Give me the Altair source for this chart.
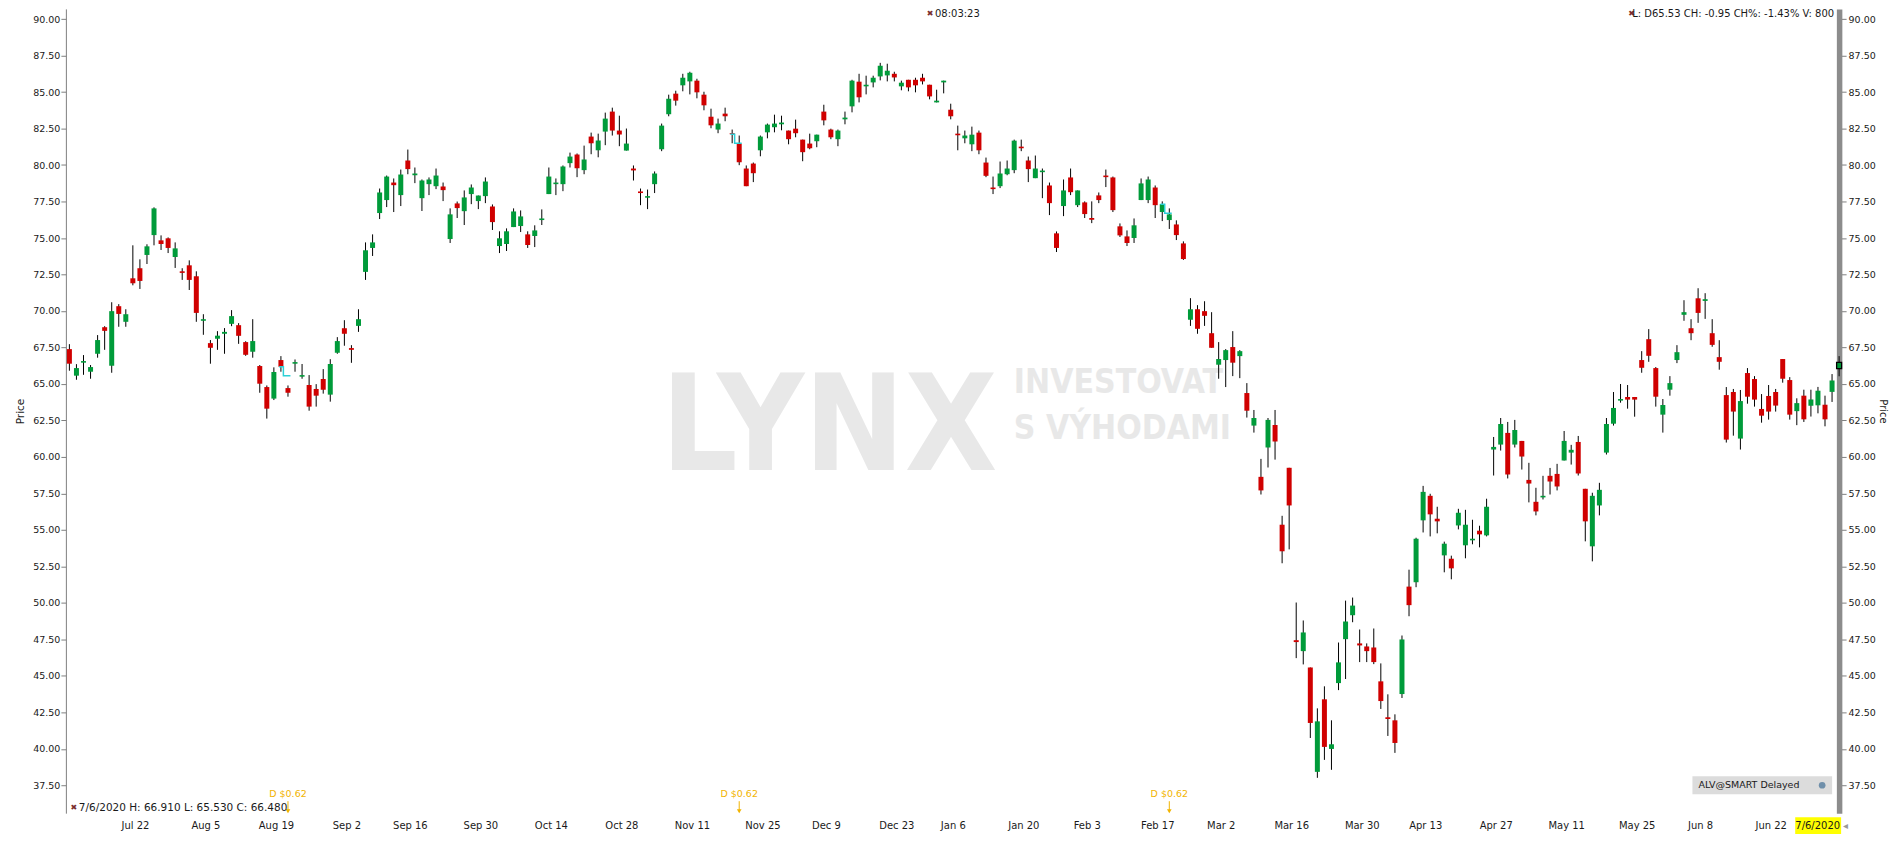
import json
import numpy as np
import pandas as pd
import altair as alt

# ---------------- data ----------------
holidays = ["2019-09-02", "2019-11-28", "2019-12-25", "2020-01-01", "2020-01-20",
            "2020-02-17", "2020-04-10", "2020-05-25", "2020-07-03"]

opens = [67.39, 65.57, 66.46, 65.84, 67.07, 68.89, 66.25, 70.33, 69.26, 72.24,
         72.93, 73.84, 75.20, 74.84, 74.98, 73.70, 72.72, 73.13, 72.38, 69.33,
         67.80, 68.10, 68.44, 69.12, 69.03, 67.87, 67.21, 66.23, 64.79, 64.00,
         66.64, 64.72, 66.39, 65.50, 64.93, 64.66, 65.34, 64.27, 67.14, 68.82,
         67.46, 68.98, 72.68, 74.32, 76.71, 77.60, 78.80, 77.94, 80.31, 79.30,
         77.73, 78.69, 78.55, 78.53, 74.93, 77.37, 76.84, 78.01, 77.53, 77.87,
         77.16, 74.45, 74.59, 75.75, 75.82, 75.25, 75.14, 76.23, 78.01, 78.69,
         78.69, 80.13, 80.72, 79.65, 81.95, 81.01, 82.29, 83.66, 82.36, 80.99,
         79.76, 78.19, 77.76, 78.69, 81.08, 83.48, 84.89, 85.46, 85.73, 85.78,
         84.82, 83.31, 82.43, 83.52, 82.18, 81.47, 79.76, 80.10, 81.01, 82.24,
         82.59, 82.79, 82.36, 82.49, 81.74, 81.47, 81.63, 83.66, 82.43, 81.77,
         83.13, 84.02, 85.71, 85.39, 85.66, 86.07, 86.14, 86.25, 85.39, 85.84,
         85.84, 85.98, 85.50, 84.29, 85.66, 83.79, 82.15, 81.83, 81.42, 82.22,
         80.17, 78.46, 78.55, 79.37, 79.65, 81.26, 80.31, 79.10, 79.51, 78.60,
         75.32, 77.19, 79.15, 77.25, 77.44, 76.37, 77.92, 79.28, 79.15, 75.80,
         75.11, 75.00, 77.60, 77.60, 78.46, 76.78, 76.23, 75.93, 74.63, 69.40,
         70.12, 69.99, 68.48, 66.32, 66.64, 67.53, 66.91, 64.38, 62.15, 58.64,
         60.65, 62.19, 55.36, 59.26, 47.45, 46.70, 45.58, 38.43, 43.40, 40.00,
         44.51, 47.52, 49.16, 47.23, 47.02, 46.95, 44.63, 42.17, 41.96, 43.76,
         51.12, 51.42, 55.66, 57.34, 55.77, 53.26, 53.03, 55.31, 53.95, 54.29,
         54.95, 54.63, 60.51, 60.85, 61.65, 60.85, 61.10, 58.43, 56.93, 57.23,
         58.71, 58.84, 59.76, 60.30, 61.03, 57.82, 53.88, 56.68, 60.30, 62.28,
         63.86, 64.11, 64.11, 66.64, 68.07, 66.09, 62.90, 64.61, 66.64, 69.74,
         68.82, 70.87, 70.69, 68.48, 66.84, 64.24, 64.45, 61.26, 65.75, 65.34,
         63.29, 64.18, 64.45, 66.71, 65.27, 63.14, 64.20, 63.51, 63.54, 63.58,
         64.46, 66.05]
highs = [67.73, 66.36, 66.98, 66.30, 68.35, 68.96, 70.60, 70.47, 70.12, 74.50,
         73.54, 74.57, 77.10, 75.18, 75.04, 74.70, 72.93, 73.47, 72.72, 69.78,
         68.01, 68.62, 68.83, 70.06, 69.17, 67.93, 69.44, 66.30, 64.90, 66.14,
         66.91, 64.90, 66.68, 66.37, 65.61, 64.99, 66.02, 66.70, 68.21, 69.37,
         67.66, 70.12, 74.70, 75.25, 78.39, 79.28, 79.08, 79.69, 81.06, 79.83,
         79.01, 79.15, 79.76, 78.80, 77.03, 77.50, 78.26, 78.67, 77.91, 79.15,
         77.30, 75.46, 75.66, 77.03, 76.89, 75.46, 75.87, 76.96, 79.83, 79.08,
         79.97, 80.85, 80.79, 81.33, 82.22, 82.15, 83.59, 83.93, 83.38, 82.50,
         79.97, 78.39, 78.32, 79.56, 82.84, 84.82, 85.09, 86.25, 86.39, 85.91,
         85.02, 83.86, 83.18, 83.93, 82.43, 82.02, 79.97, 80.17, 82.02, 82.84,
         83.45, 83.38, 82.36, 83.11, 81.74, 82.15, 82.08, 84.13, 82.49, 82.43,
         83.66, 85.84, 86.25, 86.12, 86.12, 87.00, 86.94, 86.39, 85.78, 85.84,
         85.98, 86.25, 85.50, 85.16, 85.78, 84.20, 82.70, 82.36, 82.63, 82.36,
         80.51, 79.21, 80.24, 80.31, 81.74, 81.74, 80.58, 80.65, 79.76, 78.80,
         75.45, 79.01, 79.76, 78.26, 77.51, 77.51, 78.12, 79.69, 79.21, 76.00,
         75.52, 76.34, 79.08, 79.21, 78.60, 77.51, 77.03, 76.21, 74.77, 70.88,
         70.40, 70.67, 69.92, 67.87, 67.39, 68.62, 67.32, 65.06, 63.22, 59.87,
         62.67, 63.22, 55.97, 59.26, 50.03, 48.80, 45.58, 42.78, 44.29, 41.96,
         47.29, 50.16, 50.37, 48.18, 47.23, 48.25, 45.86, 43.74, 42.37, 47.77,
         52.28, 54.47, 58.02, 57.48, 56.59, 54.20, 53.24, 56.45, 56.38, 55.70,
         55.29, 57.14, 61.37, 62.67, 62.40, 62.54, 61.10, 59.60, 57.89, 58.71,
         59.25, 59.53, 61.78, 60.83, 61.44, 57.82, 57.55, 58.23, 62.67, 64.45,
         65.00, 64.93, 64.11, 67.25, 68.76, 66.16, 63.97, 65.54, 67.66, 70.74,
         69.44, 71.56, 71.22, 69.44, 68.00, 64.79, 64.66, 64.59, 66.09, 65.54,
         64.31, 64.93, 64.66, 66.71, 65.47, 64.02, 64.61, 64.61, 64.80, 64.20,
         65.68, 66.91]
lows = [65.91, 65.29, 65.63, 65.36, 66.80, 67.34, 65.77, 68.92, 68.92, 71.76,
        71.51, 73.22, 74.50, 74.18, 73.97, 72.95, 72.13, 71.44, 69.26, 68.37,
        66.39, 67.34, 67.07, 68.96, 67.75, 66.93, 66.80, 64.40, 62.63, 63.90,
        65.84, 64.13, 65.84, 65.36, 63.17, 63.45, 64.34, 63.79, 67.07, 67.62,
        66.45, 68.57, 72.13, 73.77, 76.30, 77.12, 76.78, 77.19, 79.37, 78.76,
        76.85, 77.94, 78.35, 77.53, 74.66, 76.37, 75.89, 77.32, 76.98, 77.39,
        75.55, 73.97, 74.11, 75.75, 75.41, 74.32, 74.38, 75.89, 78.01, 77.94,
        78.21, 79.83, 79.17, 79.37, 80.74, 80.53, 81.36, 82.02, 81.29, 80.99,
        78.94, 77.25, 76.98, 78.08, 80.95, 83.34, 84.07, 85.05, 84.84, 84.57,
        83.75, 82.52, 82.18, 83.00, 81.49, 79.99, 78.55, 78.83, 80.60, 81.83,
        82.24, 82.38, 81.42, 81.90, 80.26, 81.08, 81.22, 82.72, 81.77, 81.29,
        82.79, 83.61, 84.29, 84.84, 85.32, 85.80, 85.73, 85.73, 85.12, 85.05,
        84.98, 85.52, 84.50, 84.29, 84.91, 83.13, 81.01, 81.49, 80.95, 80.74,
        79.17, 78.01, 78.42, 79.30, 79.44, 80.95, 78.83, 79.10, 77.73, 76.57,
        74.04, 76.50, 77.94, 77.12, 76.37, 76.02, 77.39, 78.49, 76.78, 75.07,
        74.45, 74.66, 77.60, 77.39, 76.37, 76.16, 75.62, 74.86, 73.50, 68.98,
        68.44, 68.98, 67.48, 65.36, 64.79, 65.54, 65.40, 62.70, 61.67, 57.43,
        59.28, 59.82, 52.72, 53.67, 46.22, 45.79, 40.75, 38.02, 39.25, 38.57,
        44.03, 44.79, 48.68, 45.95, 45.95, 45.81, 42.74, 40.89, 39.73, 43.49,
        49.09, 51.08, 54.83, 54.56, 54.77, 52.10, 51.62, 55.04, 53.06, 54.02,
        53.81, 54.56, 58.73, 60.44, 58.53, 60.65, 59.14, 56.89, 56.00, 57.09,
        57.43, 57.71, 59.76, 59.48, 58.73, 54.22, 52.85, 56.00, 60.17, 62.15,
        63.72, 63.31, 62.76, 65.77, 66.52, 63.45, 61.67, 64.20, 66.43, 69.33,
        68.00, 69.19, 69.46, 67.55, 65.98, 60.99, 61.46, 60.51, 63.65, 63.45,
        62.35, 62.56, 63.11, 65.09, 62.56, 62.18, 62.40, 62.77, 62.99, 62.10,
        63.77, 65.53]
closes = [66.39, 66.09, 66.57, 66.16, 68.01, 68.64, 69.99, 69.80, 69.78, 71.90,
          72.06, 74.43, 77.03, 74.59, 74.32, 74.29, 72.61, 72.13, 69.87, 69.44,
          67.48, 68.31, 68.57, 69.65, 68.30, 67.00, 67.94, 65.02, 63.31, 65.82,
          66.18, 64.40, 66.50, 65.61, 63.45, 64.20, 64.61, 66.37, 67.94, 68.44,
          67.34, 69.44, 74.16, 74.70, 78.12, 79.21, 78.62, 79.35, 79.72, 79.42,
          78.94, 79.01, 79.28, 78.28, 76.62, 77.05, 77.78, 78.46, 77.91, 78.87,
          76.09, 74.98, 75.46, 76.82, 76.48, 74.52, 75.52, 76.34, 79.21, 78.80,
          79.90, 80.58, 79.78, 80.38, 81.49, 81.68, 83.18, 82.36, 82.09, 81.47,
          79.63, 78.08, 77.87, 79.42, 82.70, 84.54, 84.41, 85.98, 86.32, 84.98,
          84.09, 82.72, 82.84, 83.34, 82.11, 80.19, 78.55, 79.44, 81.95, 82.77,
          82.84, 82.91, 81.77, 82.18, 80.88, 81.15, 82.08, 83.06, 81.90, 82.36,
          83.25, 85.78, 84.64, 85.50, 85.98, 86.80, 86.46, 86.00, 85.64, 85.32,
          85.46, 85.73, 84.70, 84.41, 85.78, 83.34, 82.04, 82.02, 82.08, 81.01,
          79.26, 78.35, 79.42, 79.76, 81.67, 81.15, 79.72, 79.76, 79.62, 77.39,
          74.32, 78.26, 78.14, 78.26, 76.64, 76.25, 77.60, 79.17, 76.91, 75.18,
          74.66, 75.87, 78.74, 79.01, 77.25, 77.32, 76.62, 75.20, 73.56, 70.12,
          68.78, 69.67, 67.48, 66.71, 67.32, 66.46, 67.25, 63.17, 62.67, 57.71,
          62.54, 61.06, 53.54, 56.68, 47.32, 47.98, 41.78, 41.89, 40.14, 40.32,
          45.93, 48.73, 49.82, 47.09, 46.70, 45.95, 43.28, 42.05, 40.41, 47.50,
          49.85, 54.40, 57.61, 56.07, 55.59, 54.06, 52.37, 56.18, 55.36, 54.40,
          54.70, 56.59, 60.69, 62.26, 58.80, 61.85, 60.03, 58.18, 56.27, 57.34,
          58.32, 57.98, 61.10, 60.49, 58.87, 55.59, 57.34, 57.75, 62.26, 63.36,
          63.97, 63.93, 63.93, 66.11, 66.93, 64.13, 63.56, 65.06, 67.18, 69.92,
          68.48, 69.87, 70.81, 67.68, 66.52, 61.19, 63.11, 63.83, 64.13, 63.93,
          62.83, 63.11, 63.52, 65.36, 62.90, 63.69, 62.58, 63.94, 64.54, 62.58,
          65.24, 66.48]

tick_dates = ["2019-07-22", "2019-08-05", "2019-08-19", "2019-09-02", "2019-09-16",
              "2019-09-30", "2019-10-14", "2019-10-28", "2019-11-11", "2019-11-25",
              "2019-12-09", "2019-12-23", "2020-01-06", "2020-01-20", "2020-02-03",
              "2020-02-17", "2020-03-02", "2020-03-16", "2020-03-30", "2020-04-13",
              "2020-04-27", "2020-05-11", "2020-05-25", "2020-06-08", "2020-06-22"]
tick_labels = ["Jul 22", "Aug 5", "Aug 19", "Sep 2", "Sep 16", "Sep 30", "Oct 14",
               "Oct 28", "Nov 11", "Nov 25", "Dec 9", "Dec 23", "Jan 6", "Jan 20",
               "Feb 3", "Feb 17", "Mar 2", "Mar 16", "Mar 30", "Apr 13", "Apr 27",
               "May 11", "May 25", "Jun 8", "Jun 22"]
y_ticks = [37.5, 40.0, 42.5, 45.0, 47.5, 50.0, 52.5, 55.0, 57.5, 60.0, 62.5, 65.0,
           67.5, 70.0, 72.5, 75.0, 77.5, 80.0, 82.5, 85.0, 87.5, 90.0]

div_dates = ["2019-08-20", "2019-11-19", "2020-02-19"]
div_amounts = [0.62, 0.62, 0.62]
div_labels = ["D $0.62", "D $0.62", "D $0.62"]

last_label = "7/6/2020"
top_time = "08:03:23"
top_quote = "L: D65.53 CH: -0.95 CH%: -1.43% V: 800"
bottom_info = "7/6/2020 H: 66.910 L: 65.530 C: 66.480"
feed_label = "ALV@SMART Delayed"

# ---------------- tables ----------------
days = pd.bdate_range("2019-07-08", "2020-07-06")
days = days[~days.isin(pd.to_datetime(holidays))]
n = min(len(days), len(opens))
days = days[:n]

df = pd.DataFrame({
    "i": np.arange(n),
    "date": days.strftime("%Y-%m-%d"),
    "open": opens[:n], "high": highs[:n], "low": lows[:n], "close": closes[:n],
})
df["dir"] = np.where(df["close"] >= df["open"], "up", "down")
df["top"] = df[["open", "close"]].max(axis=1)
df["bot"] = df[["open", "close"]].min(axis=1)
last = n - 1

tick_idx = [int(days.searchsorted(pd.Timestamp(d))) for d in tick_dates]
label_expr = f"{json.dumps(tick_labels)}[indexof({json.dumps(tick_idx)}, datum.value)]"

div_idx = [int(days.searchsorted(pd.Timestamp(d))) for d in div_dates]
div_df = pd.DataFrame({"i": div_idx, "label": div_labels})
steps = []
for k, (di, amt) in enumerate(zip(div_idx, div_amounts)):
    pc = closes[di - 1]
    steps += [{"d": k, "x": di - 1.25, "v": pc},
              {"d": k, "x": di - 0.65, "v": pc - amt},
              {"d": k, "x": di + 0.35, "v": pc - amt}]
step_df = pd.DataFrame(steps)

# ---------------- chart ----------------
W, H = 1777, 806
FONT = "DejaVu Sans"
WMFONT = "Liberation Sans Narrow, DejaVu Sans Condensed, sans-serif"
GREEN, RED = "#009b3a", "#d00000"
ydom = [35.60, 90.697]
yscale = alt.Scale(domain=ydom, nice=False, zero=False)
xscale = alt.Scale(domain=[-0.5, last], nice=False, zero=False)

x_axis = alt.Axis(values=tick_idx, labelExpr=label_expr, title=None, grid=False,
                  domain=False, ticks=False, labelFont=FONT, labelFontSize=10,
                  labelColor="#1a1a1a", labelPadding=7, labelOffset=-5, labelFlush=False)
X = alt.X("i:Q", scale=xscale, axis=x_axis)

left_axis = alt.Axis(orient="left", values=y_ticks, format=".2f", title="Price", grid=False,
                     tickSize=5, tickColor="#808080", domainColor="#808080", domainWidth=1,
                     labelFont=FONT, labelFontSize=9.5, labelColor="#1a1a1a", labelPadding=1,
                     titleFont=FONT, titleFontSize=10.5, titleFontWeight="normal",
                     titleColor="#1a1a1a", titlePadding=7)
right_axis = alt.Axis(orient="right", values=y_ticks, format=".2f", title="Price", grid=False,
                      tickSize=7, tickColor="#808080", domainColor="#8c8c8c", domainWidth=5.5,
                      labelFont=FONT, labelFontSize=9.5, labelColor="#1a1a1a", labelPadding=2,
                      titleFont=FONT, titleFontSize=10, titleFontWeight="normal",
                      titleColor="#1a1a1a", titlePadding=2)

base = alt.Chart(df)

wm1 = alt.Chart(pd.DataFrame({"t": ["LYNX"]})).mark_text(
    font=WMFONT, fontWeight="bold", fontSize=134, color="#e8e8e8",
    align="center", baseline="alphabetic"
).encode(x=alt.value(765), y=alt.value(462), text="t:N")
wm2 = alt.Chart(pd.DataFrame({"t": ["INVESTOVAT", "S VÝHODAMI"], "yy": [385, 431]})).mark_text(
    font=WMFONT, fontWeight="bold", fontSize=33.5, color="#e8e8e8",
    align="left", baseline="alphabetic"
).encode(x=alt.value(950), y=alt.Y("yy:Q", scale=None), text="t:N")

wicks = base.mark_rule(color="black", strokeWidth=1).encode(
    x=X, y=alt.Y("low:Q", scale=yscale, axis=left_axis), y2="high:Q")

bodies = base.mark_rect(xOffset=-2.5, x2Offset=2.5, stroke="black").encode(
    x=X, x2="i:Q",
    y=alt.Y("top:Q", scale=yscale, axis=right_axis), y2="bot:Q",
    color=alt.Color("dir:N", scale=alt.Scale(domain=["up", "down"], range=[GREEN, RED]),
                    legend=None),
    strokeWidth=alt.condition(alt.datum.i == last, alt.value(1.3), alt.value(0)),
)

div_steps = alt.Chart(step_df).mark_line(interpolate="step-after", color="#2ccfd6",
                                         strokeWidth=1.5).encode(
    x=alt.X("x:Q", scale=xscale, axis=x_axis),
    y=alt.Y("v:Q", scale=yscale, axis=None), detail="d:N")

div_text = alt.Chart(div_df).mark_text(font=FONT, fontSize=9.5, color="#f2b400",
                                       baseline="middle").encode(
    x=X, y=alt.value(H - 19), text="label:N")
div_stem = alt.Chart(div_df).mark_rule(color="#f2b400", strokeWidth=1).encode(
    x=X, y=alt.value(H - 12), y2=alt.value(H - 1))
div_head = alt.Chart(div_df).mark_point(shape="triangle-down", filled=True, size=22,
                                        color="#f2b400", opacity=1).encode(
    x=X, y=alt.value(H - 2))

last_df = df[df["i"] == last].assign(lab=last_label, arrow="\u25c2")
last_box = alt.Chart(last_df).mark_rect(color="#ffff00", xOffset=-44, x2Offset=2).encode(
    x=X, x2="i:Q", y=alt.value(H + 4), y2=alt.value(H + 21))
last_txt = alt.Chart(last_df).mark_text(font=FONT, fontSize=10, color="#1a1a1a",
                                        align="right", baseline="middle", dx=1).encode(
    x=X, y=alt.value(H + 12.5), text="lab:N")
last_arrow = alt.Chart(last_df).mark_text(font=FONT, fontSize=10, color="#9a9a9a",
                                          align="left", baseline="middle", dx=4).encode(
    x=X, y=alt.value(H + 12.5), text="arrow:N")

def label(txt, x, y, align="left", size=10, color="#1a1a1a"):
    return alt.Chart(pd.DataFrame({"t": [txt]})).mark_text(
        font=FONT, fontSize=size, color=color, align=align, baseline="middle"
    ).encode(x=alt.value(x), y=alt.value(y), text="t:N")

icon = "\u2716"
ann = [
    label(icon, 866, 5, align="center", size=8, color="#7a2e2e"),
    label(top_time, 871, 5),
    label(icon, 1569, 5, align="center", size=8, color="#7a2e2e"),
    label(top_quote, 1772, 5, align="right"),
    label(icon, 8, H - 5, align="center", size=8, color="#7a2e2e"),
    label(bottom_info, 13, H - 5, size=10.5),
]

feed_box = alt.Chart(pd.DataFrame({"a": [0]})).mark_rect(color="#dcdcdc").encode(
    x=alt.value(W - 147), x2=alt.value(W - 7), y=alt.value(H - 37), y2=alt.value(H - 19))
feed_txt = label(feed_label, W - 141, H - 28, size=9.5)
feed_icon = alt.Chart(pd.DataFrame({"a": [0]})).mark_circle(size=45, color="#6f8faa",
                                                             opacity=1).encode(
    x=alt.value(W - 17), y=alt.value(H - 28))

chart = alt.layer(
    wm1, wm2, wicks, bodies, div_steps, div_text, div_stem, div_head,
    last_box, last_txt, last_arrow, feed_box, feed_txt, feed_icon, *ann
).resolve_scale(y="shared").resolve_axis(y="independent").properties(
    width=W, height=H, background="white",
    padding={"left": 7, "top": 0, "right": 4, "bottom": 0},
).configure_view(stroke=None)

chart.save("out.html", embed_options={"renderer": "svg", "actions": False})
